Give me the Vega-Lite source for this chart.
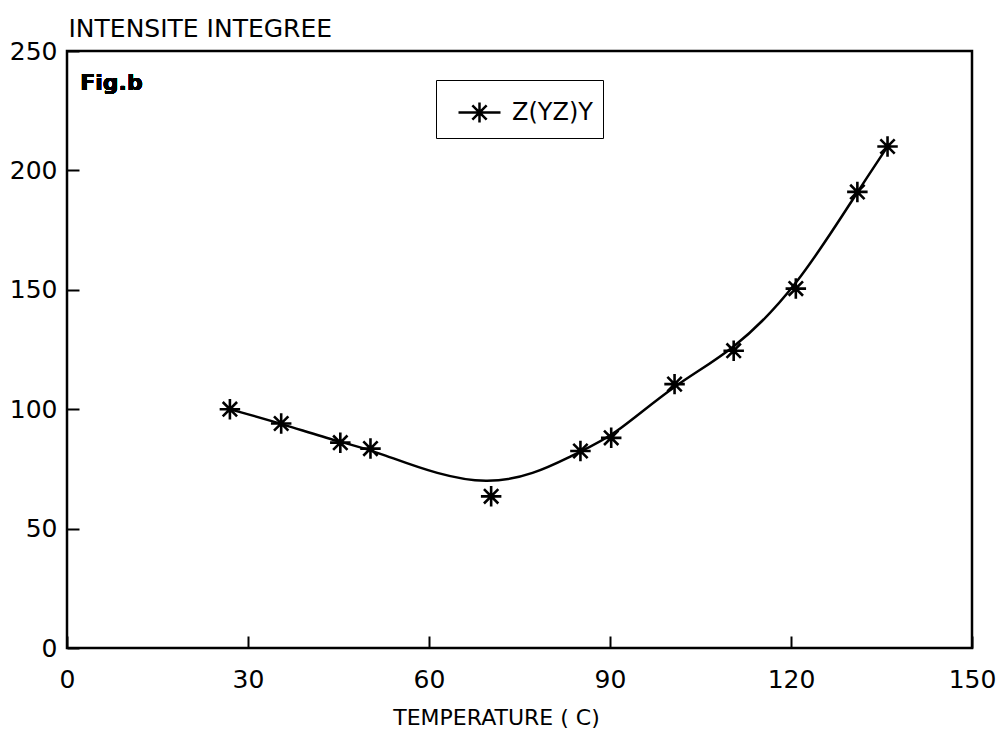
{
  "$schema": "https://vega.github.io/schema/vega-lite/v6.json",
  "width": 905,
  "height": 597,
  "autosize": "none",
  "padding": {"left": 67, "top": 51, "right": 24, "bottom": 82},
  "background": "white",
  "config": {
    "view": {"stroke": "black", "strokeWidth": 2.5},
    "font": "DejaVu Sans"
  },
  "data": {
    "values": [
      {"T": 27.0, "I": 100.0},
      {"T": 35.5, "I": 94.0},
      {"T": 45.3, "I": 86.0},
      {"T": 50.3, "I": 83.5},
      {"T": 70.3, "I": 63.5},
      {"T": 85.1, "I": 82.5},
      {"T": 90.2, "I": 88.0},
      {"T": 100.7, "I": 110.5},
      {"T": 110.5, "I": 124.5},
      {"T": 120.8, "I": 150.5},
      {"T": 131.0, "I": 191.0},
      {"T": 136.0, "I": 210.0}
    ]
  },
  "encoding": {
    "x": {
      "field": "T", "type": "quantitative",
      "scale": {"domain": [0, 150], "nice": false, "zero": false},
      "axis": {
        "values": [0, 30, 60, 90, 120, 150],
        "grid": false, "domain": false,
        "offset": -12,
        "tickSize": 12, "tickWidth": 2, "tickColor": "black",
        "labelFlush": false,
        "labelPadding": 19, "labelFontSize": 25, "labelColor": "black",
        "labelFont": "DejaVu Sans",
        "title": "TEMPERATURE ( C)", "titleFontSize": 22, "titleFontWeight": "normal",
        "titleColor": "black", "titleFont": "DejaVu Sans",
        "titleX": 429, "titleY": 88, "titleAlign": "center", "titleBaseline": "alphabetic"
      }
    },
    "y": {
      "field": "I", "type": "quantitative",
      "scale": {"domain": [0, 250], "nice": false, "zero": false},
      "axis": {
        "values": [0, 50, 100, 150, 200, 250],
        "grid": false, "domain": false,
        "offset": -12,
        "tickSize": 12, "tickWidth": 2, "tickColor": "black",
        "labelFlush": false,
        "labelPadding": 10, "labelFontSize": 25, "labelColor": "black",
        "labelFont": "DejaVu Sans",
        "title": "INTENSITE INTEGREE", "titleFontSize": 25, "titleFontWeight": "normal",
        "titleColor": "black", "titleFont": "DejaVu Sans",
        "titleAngle": 0, "titleAlign": "left", "titleBaseline": "alphabetic",
        "titleX": -11, "titleY": -15
      }
    }
  },
  "layer": [
    {
      "mark": {"type": "line", "interpolate": "basis", "stroke": "black", "strokeWidth": 2.5},
      "encoding": {
        "color": {
          "datum": "Z(YZ)Y",
          "scale": {"range": ["black"]},
          "legend": {
            "title": null,
            "orient": "none",
            "legendX": 369,
            "legendY": 29,
            "padding": 10,
            "symbolOffset": 11,
            "strokeColor": "black",
            "fillColor": "white",
            "symbolType": "M-1,0L1,0M0,-0.48L0,0.48M-0.34,-0.34L0.34,0.34M-0.34,0.34L0.34,-0.34",
            "symbolSize": 1764,
            "symbolStrokeWidth": 2.5,
            "symbolStrokeColor": "black",
            "labelFontSize": 24,
            "labelFont": "DejaVu Sans",
            "labelColor": "black",
            "labelOffset": 10
          }
        }
      }
    },
    {
      "mark": {
        "type": "point",
        "shape": "M-1,0L1,0M0,-1L0,1M-0.7,-0.7L0.7,0.7M-0.7,0.7L0.7,-0.7",
        "size": 420,
        "stroke": "black",
        "strokeWidth": 2.6,
        "filled": false,
        "opacity": 1
      }
    },
    {
      "mark": {"type": "text", "text": "Fig.b", "font": "DejaVu Sans", "fontWeight": "bold", "fontSize": 22, "align": "left", "baseline": "middle", "color": "black"},
      "encoding": {
        "x": {"datum": 2.2},
        "y": {"datum": 236.5}
      }
    }
  ]
}
